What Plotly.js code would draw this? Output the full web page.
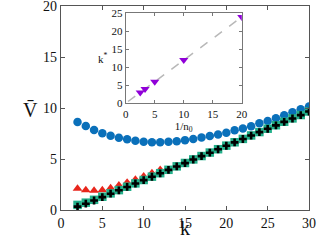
<!DOCTYPE html>
<html>
<head>
<meta charset="utf-8">
<script src="https://cdn.plot.ly/plotly-3.0.1.min.js"></script>
<style>html,body{margin:0;padding:0;background:#fff}#chart{width:320px;height:240px}</style>
</head>
<body>
<div id="chart"></div>
<script>
const kValues = [2,3,4,5,6,7,8,9,10,11,12,13,14,15,16,17,18,19,20,21,22,23,24,25,26,27,28,29,30];
const blueV = [8.63,8.24,7.84,7.52,7.28,7.09,6.93,6.8,6.7,6.65,6.65,6.7,6.75,6.85,6.95,7.1,7.25,7.4,7.58,7.81,8.0,8.2,8.5,8.73,8.99,9.28,9.58,9.87,10.15];
const redK = [2,3,4,5,6,7,8,9,10,11,12];
const redV = [2.1,1.95,1.9,1.95,2.15,2.42,2.7,3.0,3.3,3.62,3.95];
const tealV = [0.5,0.72,1.0,1.3,1.63,1.95,2.28,2.61,2.94,3.27,3.61,3.94,4.28,4.61,4.96,5.29,5.63,5.96,6.31,6.64,6.97,7.31,7.64,7.97,8.31,8.65,8.98,9.31,9.66];
const blackV = [0.33,0.62,0.93,1.26,1.6,1.93,2.26,2.6,2.93,3.26,3.6,3.93,4.27,4.6,4.95,5.28,5.62,5.95,6.3,6.63,6.96,7.3,7.63,7.96,8.3,8.64,8.97,9.3,9.65];
const insetX = [2.5,3.33,5,10,20];
const insetY = [3,4,6,12,24];
const fitX = [0.4,20];
const fitY = [0.5,24];
const mainXTicks = [0,5,10,15,20,25,30];
const mainYTicks = [0,5,10,15,20];
const insetXTicks = [0,5,10,15,20];
const insetYTicks = [0,5,10,15,20,25];

const serif = "Liberation Serif, Times New Roman, serif";
const traces = [
  {x:kValues, y:blueV, mode:'markers', type:'scatter', marker:{symbol:'circle', size:8.5, color:'#0a70ba'}, xaxis:'x', yaxis:'y'},
  {x:redK, y:redV, mode:'markers', type:'scatter', marker:{symbol:'triangle-up', size:8.5, color:'#e8261c'}, xaxis:'x', yaxis:'y'},
  {x:kValues, y:tealV, mode:'markers', type:'scatter', marker:{symbol:'square', size:8.5, color:'#22b08a'}, xaxis:'x', yaxis:'y'},
  {x:kValues, y:blackV, mode:'markers', type:'scatter', marker:{symbol:'cross', size:6.5, color:'#000000'}, xaxis:'x', yaxis:'y'},
  {x:fitX, y:fitY, mode:'lines', type:'scatter', line:{color:'#b8b8b8', width:1.5, dash:'dash'}, xaxis:'x2', yaxis:'y2'},
  {x:insetX, y:insetY, mode:'markers', type:'scatter', marker:{symbol:'triangle-down', size:8, color:'#9000d8'}, xaxis:'x2', yaxis:'y2'}
];
const axisCommon = {showgrid:false, zeroline:false, showline:true, mirror:'ticks', ticks:'inside', linecolor:'#555', tickcolor:'#555', linewidth:1.3, ticklabeloverflow:'allow'};
const layout = {
  width:320, height:240,
  margin:{l:61, r:11, t:6, b:30},
  paper_bgcolor:'#fff', plot_bgcolor:'#fff',
  showlegend:false,
  font:{family:serif, color:'#111'},
  xaxis:Object.assign({}, axisCommon, {range:[0,30], tickvals:mainXTicks, ticklen:4, tickfont:{size:14, family:serif}}),
  yaxis:Object.assign({}, axisCommon, {range:[0,20], tickvals:mainYTicks, ticklen:4, tickfont:{size:14, family:serif}}),
  xaxis2:Object.assign({}, axisCommon, {domain:[0.261,0.729], anchor:'y2', range:[0,20], tickvals:insetXTicks, ticklen:3, linecolor:'#777', tickcolor:'#777', linewidth:1, tickfont:{size:11, family:serif}, title:{text:'1/n<sub>0</sub>', font:{size:11, family:serif}, standoff:2}}),
  yaxis2:Object.assign({}, axisCommon, {domain:[0.523,0.964], anchor:'x2', range:[0,25], tickvals:insetYTicks, ticklen:3, linecolor:'#777', tickcolor:'#777', linewidth:1, tickfont:{size:11, family:serif}}),
  annotations:[
    {text:'V\u0304', xref:'paper', yref:'paper', x:-0.125, y:0.49, showarrow:false, font:{size:20, family:serif}, xanchor:'center', yanchor:'middle'},
    {text:'k', xref:'paper', yref:'paper', x:0.5, y:-0.147, showarrow:false, font:{size:20, family:serif}, xanchor:'center', yanchor:'bottom', borderpad:0},
    {text:'k<sup>*</sup>', xref:'paper', yref:'paper', x:0.17, y:0.745, showarrow:false, font:{size:11, family:serif}, xanchor:'center', yanchor:'middle'}
  ]
};
Plotly.newPlot('chart', traces, layout, {displayModeBar:false, staticPlot:true});
</script>
</body>
</html>
